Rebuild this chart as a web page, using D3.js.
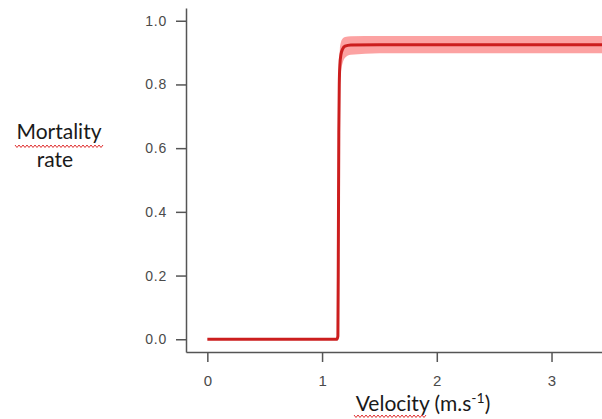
<!DOCTYPE html>
<html>
<head>
<meta charset="utf-8">
<script src="https://cdn.jsdelivr.net/npm/d3@7"></script>
<style>
  body { margin: 0; background: #fff; }
  .tick text { font-family: "Liberation Sans", Arial, sans-serif; fill: #4a4a4a; }
  .y-axis .tick text { font-size: 14px; letter-spacing: 0.8px; }
  .x-axis .tick text { font-size: 15px; }
  .title { font-family: Lato, "Noto Sans", sans-serif; font-size: 21px; fill: #1a1a1a; }
</style>
</head>
<body>
<div id="chart"></div>
<script>
// velocity (m/s) and modelled mortality with its confidence band
const velocity  = [0, 0.5, 1.0, 1.13, 1.138, 1.142, 1.146, 1.15, 1.155, 1.165, 1.18, 1.2, 1.25, 1.5, 2, 2.5, 3, 3.5]
const mortality = [0, 0, 0, 0, 0.01, 0.3, 0.65, 0.8, 0.86, 0.895, 0.912, 0.92, 0.924, 0.925, 0.925, 0.925, 0.925, 0.925]
const upper     = [0, 0, 0, 0.002, 0.04, 0.42, 0.76, 0.87, 0.91, 0.933, 0.944, 0.949, 0.951, 0.952, 0.952, 0.952, 0.952, 0.952]
const lower     = [0, 0, 0, 0, 0, 0.18, 0.5, 0.68, 0.78, 0.84, 0.868, 0.884, 0.893, 0.898, 0.898, 0.898, 0.898, 0.898]
const xTicks = [0, 1, 2, 3]
const yTicks = [0, 0.2, 0.4, 0.6, 0.8, 1.0]

const dms = { width: 602, height: 419 }

const svg = d3.select('#chart').append('svg')
    .attr('width', dms.width)
    .attr('height', dms.height)

const xScale = d3.scaleLinear()
    .domain([-0.186, 3.44])
    .range([186, 602])

const yScale = d3.scaleLinear()
    .domain([-0.04, 1.04])
    .range([352, 8])

const rows = velocity.map((v, i) => ({ v, m: mortality[i], lo: lower[i], hi: upper[i] }))

const area = d3.area()
    .x(d => xScale(d.v))
    .y0(d => yScale(d.lo))
    .y1(d => yScale(d.hi))
    .curve(d3.curveMonotoneX)

const line = d3.line()
    .x(d => xScale(d.v))
    .y(d => yScale(d.m))
    .curve(d3.curveMonotoneX)

svg.append('path')
    .datum(rows)
    .attr('d', area)
    .attr('fill', '#fc9898')
    .attr('opacity', 0.9)

svg.append('path')
    .datum(rows)
    .attr('d', line)
    .attr('fill', 'none')
    .attr('stroke', '#cc1e1e')
    .attr('stroke-width', 3)
    .attr('stroke-linejoin', 'round')

// axes, R style with L-shaped box
const xAxis = svg.append('g')
    .attr('class', 'x-axis')
    .attr('transform', `translate(0,${yScale.range()[0]})`)
    .call(d3.axisBottom(xScale).tickValues(xTicks).tickFormat(d3.format('d')).tickSize(10).tickSizeOuter(0).tickPadding(13))

const yAxis = svg.append('g')
    .attr('class', 'y-axis')
    .attr('transform', `translate(${xScale.range()[0]},0)`)
    .call(d3.axisLeft(yScale).tickValues(yTicks).tickFormat(d3.format('.1f')).tickSize(10).tickSizeOuter(0).tickPadding(9))

svg.selectAll('.domain, .tick line')
    .attr('stroke', '#555')
    .attr('stroke-width', 1.5)

// titles
svg.append('text')
    .attr('class', 'title')
    .attr('x', 59)
    .attr('y', 139)
    .attr('text-anchor', 'middle')
    .text('Mortality')

svg.append('text')
    .attr('class', 'title')
    .attr('x', 55)
    .attr('y', 167)
    .attr('text-anchor', 'middle')
    .text('rate')

const vt = svg.append('text')
    .attr('class', 'title')
    .attr('x', 423)
    .attr('y', 411)
    .attr('text-anchor', 'middle')
vt.append('tspan').text('Velocity (m.s')
vt.append('tspan').attr('dy', -8).attr('font-size', 14).text('-1')
vt.append('tspan').attr('dy', 8).text(')')

// red spell-check squiggles under two words
function squiggle(x0, x1, y) {
    const pts = d3.range(x0, x1 + 0.1, 2).map((x, i) => [x, y + (i % 2 ? 1.5 : -1)])
    svg.append('path')
        .attr('d', d3.line()(pts))
        .attr('fill', 'none')
        .attr('stroke', '#e03030')
        .attr('stroke-width', 1)
}
squiggle(15, 103, 146)
squiggle(354, 427, 416)
</script>
</body>
</html>
